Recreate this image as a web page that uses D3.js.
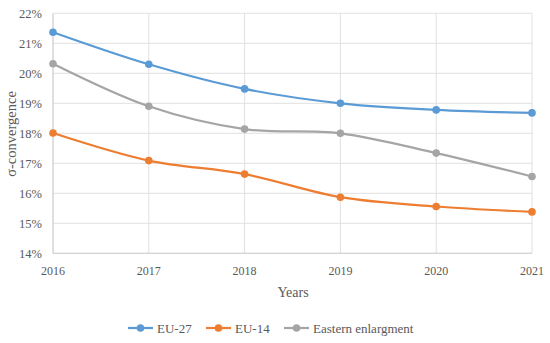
<!doctype html>
<html lang="en">
<head>
    <meta charset="UTF-8">
    <title>σ-convergence</title>
    <style>
        body { margin: 0; background: #fff; }
        text { font-family: "Liberation Serif", "DejaVu Serif", serif; fill: #595959; }
    </style>
</head>
<body>
    <svg width="550" height="343"></svg>
    <script src="https://cdn.jsdelivr.net/npm/d3@7"></script>
    <script>
        const years = [2016, 2017, 2018, 2019, 2020, 2021];
        const eu27 = [21.37, 20.3, 19.48, 19.0, 18.78, 18.68];
        const eu14 = [18.01, 17.09, 16.64, 15.87, 15.56, 15.38];
        const eastern = [20.32, 18.9, 18.14, 18.0, 17.34, 16.56];
        const yTicks = [14, 15, 16, 17, 18, 19, 20, 21, 22];

        const seriesList = [
            {name: "EU-27", values: eu27, color: "#5B9BD5"},
            {name: "EU-14", values: eu14, color: "#ED7D31"},
            {name: "Eastern enlargment", values: eastern, color: "#A5A5A5"}
        ];

        const svg = d3.select('svg'),
            margin = {top: 13.3, left: 53, right: 18, bottom: 89.7},
            width = +svg.attr("width") - margin.left - margin.right,
            height = +svg.attr("height") - margin.top - margin.bottom,
            g = svg.append("g").attr("transform", "translate(" + margin.left + "," + margin.top + ")");

        const x = d3.scaleLinear().domain([2016, 2021]).range([0, width]);
        const y = d3.scaleLinear().domain([14, 22]).range([height, 0]);

        // grid
        g.append("g").selectAll("line").data(yTicks).join("line")
            .attr("x1", 0).attr("x2", x(2021))
            .attr("y1", d => y(d)).attr("y2", d => y(d))
            .attr("stroke", "#e0e0e0").attr("stroke-width", 1);
        g.append("g").selectAll("line").data(years).join("line")
            .attr("x1", d => x(d)).attr("x2", d => x(d))
            .attr("y1", 0).attr("y2", height)
            .attr("stroke", "#e0e0e0").attr("stroke-width", 1);
        g.append("line").attr("x1", 0).attr("x2", x(2021)).attr("y1", height).attr("y2", height)
            .attr("stroke", "#d0d0d0");
        g.append("line").attr("x1", 0).attr("x2", 0).attr("y1", 0).attr("y2", height)
            .attr("stroke", "#d0d0d0");

        // axes labels
        g.append("g").selectAll("text").data(yTicks).join("text")
            .attr("x", -11).attr("y", d => y(d)).attr("dy", "0.35em")
            .attr("text-anchor", "end").attr("font-size", 12.5)
            .text(d => d + "%");
        g.append("g").selectAll("text").data(years).join("text")
            .attr("x", d => x(d)).attr("y", height + 18).attr("dy", "0.35em")
            .attr("text-anchor", "middle").attr("font-size", 12)
            .attr("fill", "#404040")
            .text(d => d);

        svg.append("text").attr("x", 293).attr("y", 292).attr("dy", "0.35em")
            .attr("text-anchor", "middle").attr("font-size", 14).text("Years");
        svg.append("text")
            .attr("transform", "translate(11,134) rotate(-90)")
            .attr("dy", "0.35em").attr("text-anchor", "middle").attr("font-size", 14.5)
            .text("σ-convergence");

        // lines
        const line = d3.line()
            .x((d, i) => x(years[i]))
            .y(d => y(d))
            .curve(d3.curveCatmullRom.alpha(0));

        seriesList.forEach(s => {
            g.append("path").attr("d", line(s.values))
                .attr("fill", "none").attr("stroke", s.color).attr("stroke-width", 2.2);
            g.append("g").selectAll("circle").data(s.values).join("circle")
                .attr("cx", (d, i) => x(years[i])).attr("cy", d => y(d))
                .attr("r", 3.8).attr("fill", s.color);
        });

        // legend
        const legendX = [128, 206, 284];
        const legend = svg.append("g").selectAll("g").data(seriesList).join("g")
            .attr("transform", (d, i) => "translate(" + legendX[i] + ",328)");
        legend.append("line").attr("x1", 0).attr("x2", 25)
            .attr("stroke", d => d.color).attr("stroke-width", 2.2);
        legend.append("circle").attr("cx", 12.5).attr("r", 3.8).attr("fill", d => d.color);
        legend.append("text").attr("x", 29).attr("dy", "0.35em").attr("font-size", 13)
            .text(d => d.name);
    </script>
</body>
</html>
